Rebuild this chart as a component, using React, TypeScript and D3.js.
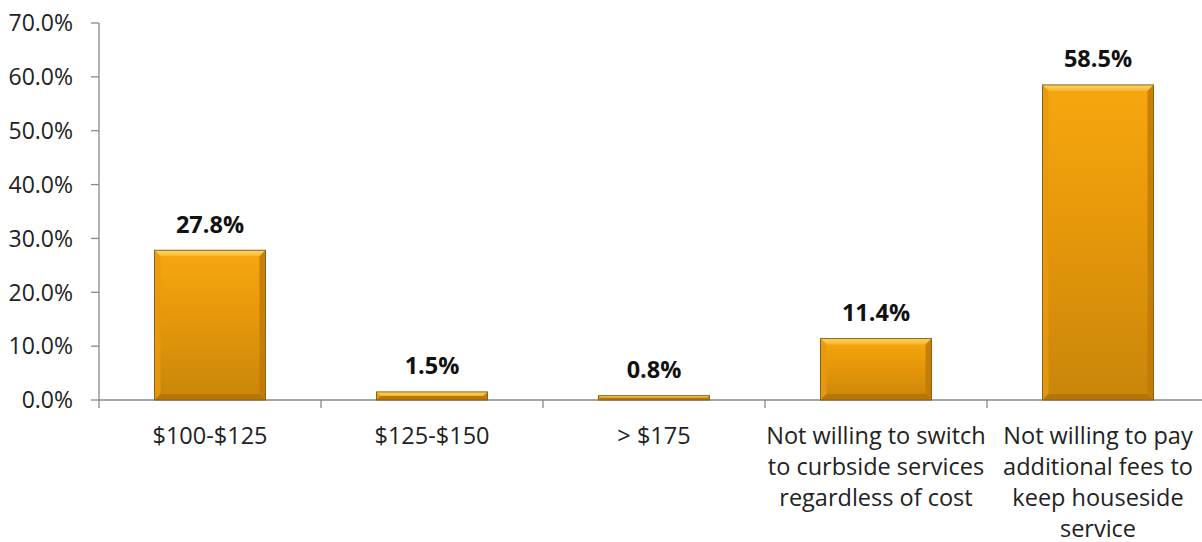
import React from "react";
import * as d3 from "d3";

const categories: string[][] = [
  ["$100-$125"],
  ["$125-$150"],
  ["> $175"],
  ["Not willing to switch", "to curbside services", "regardless of cost"],
  ["Not willing to pay", "additional fees to", "keep houseside", "service"],
];
const values: number[] = [27.8, 1.5, 0.8, 11.4, 58.5];
const yTicks: number[] = [0, 10, 20, 30, 40, 50, 60, 70];

const W = 1202;
const H = 542;
const left = 99;
const right = 1209;
const top = 23;
const bottom = 400;
const font = "'Open Sans', Lato, sans-serif";

export default function App() {
  const x = d3
    .scaleBand<number>()
    .domain(d3.range(categories.length))
    .range([left, right])
    .paddingInner(0.5)
    .paddingOuter(0.25);
  const y = d3.scaleLinear().domain([0, 70]).range([bottom, top]);
  const step = (right - left) / categories.length;
  const bev = 6;

  return (
    <svg width={W} height={H} style={{ position: "absolute", left: 0, top: 0, background: "#fff" }}>
      <defs>
        <linearGradient id="body" x1="0" y1="0" x2="0" y2="1">
          <stop offset="0" stopColor="#F6A70E" />
          <stop offset="0.5" stopColor="#E4960A" />
          <stop offset="1" stopColor="#C8860A" />
        </linearGradient>
        <linearGradient id="topb" x1="0" y1="0" x2="0" y2="1">
          <stop offset="0" stopColor="#FCD96A" />
          <stop offset="1" stopColor="#F6B52A" />
        </linearGradient>
      </defs>
      {/* y axis */}
      <line x1={left} x2={left} y1={top} y2={bottom + 8} stroke="#888" strokeWidth={1.3} />
      {yTicks.map((t) => (
        <g key={t}>
          <line x1={left - 8} x2={left} y1={y(t)} y2={y(t)} stroke="#888" strokeWidth={1.3} />
          <text
            x={73}
            y={y(t)}
            dy="0.36em"
            textAnchor="end"
            fontFamily={font}
            fontSize={23}
            fill="#222"
          >
            {t.toFixed(1) + "%"}
          </text>
        </g>
      ))}
      {/* x axis */}
      <line x1={left} x2={W} y1={bottom} y2={bottom} stroke="#888" strokeWidth={1.3} />
      {d3.range(1, categories.length).map((i) => (
        <line
          key={i}
          x1={left + i * step}
          x2={left + i * step}
          y1={bottom}
          y2={bottom + 8}
          stroke="#888"
          strokeWidth={1.3}
        />
      ))}
      {values.map((v, i) => {
        const x0 = x(i)!;
        const w = x.bandwidth();
        const y0 = y(v);
        const h = bottom - y0;
        const b = Math.min(bev, h / 2);
        return (
          <g key={i}>
            <rect x={x0} y={y0} width={w} height={h} fill="url(#body)" />
            <polygon
              points={`${x0},${y0} ${x0 + w},${y0} ${x0 + w - b},${y0 + b} ${x0 + b},${y0 + b}`}
              fill="url(#topb)"
            />
            <polygon
              points={`${x0},${y0} ${x0 + b},${y0 + b} ${x0 + b},${bottom - b} ${x0},${bottom}`}
              fill="#E89A10"
              opacity={0.85}
            />
            <polygon
              points={`${x0 + w},${y0} ${x0 + w - b},${y0 + b} ${x0 + w - b},${bottom - b} ${x0 + w},${bottom}`}
              fill="#C07A05"
              opacity={0.85}
            />
            <polygon
              points={`${x0},${bottom} ${x0 + b},${bottom - b} ${x0 + w - b},${bottom - b} ${x0 + w},${bottom}`}
              fill="#B07004"
              opacity={0.8}
            />
            <rect x={x0} y={y0} width={w} height={h} fill="none" stroke="#8C6218" strokeWidth={1} />
            <text
              x={x0 + w / 2}
              y={y0 - 26}
              dy="0.36em"
              textAnchor="middle"
              fontFamily={font}
              fontWeight="bold"
              fontSize={23.5}
              fill="#111"
            >
              {v.toFixed(1) + "%"}
            </text>
          </g>
        );
      })}
      {categories.map((lines, i) => (
        <text
          key={i}
          x={x(i)! + x.bandwidth() / 2}
          y={436}
          textAnchor="middle"
          fontFamily={font}
          fontSize={23.5}
          fill="#222"
        >
          {lines.map((l, j) => (
            <tspan key={j} x={x(i)! + x.bandwidth() / 2} dy={j === 0 ? "0.36em" : 31}>
              {l}
            </tspan>
          ))}
        </text>
      ))}
    </svg>
  );
}
